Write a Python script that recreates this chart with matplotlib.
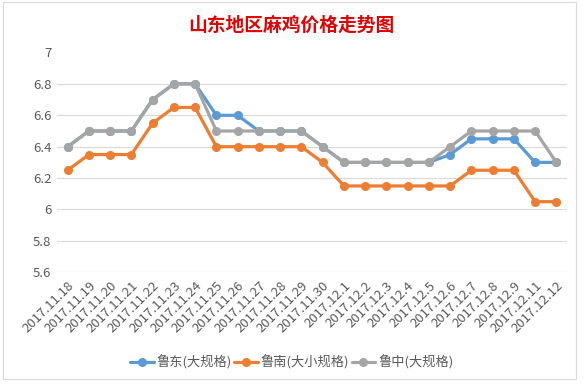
import matplotlib
matplotlib.use("Agg")
import matplotlib.pyplot as plt
from matplotlib.patches import Rectangle

plt.rcParams['font.family'] = ['Noto Sans CJK SC', 'DejaVu Sans']

dates = ["2017.11.18", "2017.11.19", "2017.11.20", "2017.11.21", "2017.11.22",
         "2017.11.23", "2017.11.24", "2017.11.25", "2017.11.26", "2017.11.27",
         "2017.11.28", "2017.11.29", "2017.11.30", "2017.12.1", "2017.12.2",
         "2017.12.3", "2017.12.4", "2017.12.5", "2017.12.6", "2017.12.7",
         "2017.12.8", "2017.12.9", "2017.12.11", "2017.12.12"]
ludong = [6.4, 6.5, 6.5, 6.5, 6.7, 6.8, 6.8, 6.6, 6.6, 6.5, 6.5, 6.5,
          6.4, 6.3, 6.3, 6.3, 6.3, 6.3, 6.35, 6.45, 6.45, 6.45, 6.3, 6.3]
lunan = [6.25, 6.35, 6.35, 6.35, 6.55, 6.65, 6.65, 6.4, 6.4, 6.4, 6.4, 6.4,
         6.3, 6.15, 6.15, 6.15, 6.15, 6.15, 6.15, 6.25, 6.25, 6.25, 6.05, 6.05]
luzhong = [6.4, 6.5, 6.5, 6.5, 6.7, 6.8, 6.8, 6.5, 6.5, 6.5, 6.5, 6.5,
           6.4, 6.3, 6.3, 6.3, 6.3, 6.3, 6.4, 6.5, 6.5, 6.5, 6.5, 6.3]
series_names = ["鲁东(大规格)", "鲁南(大小规格)", "鲁中(大规格)"]
yticks = [5.6, 5.8, 6, 6.2, 6.4, 6.6, 6.8, 7]
ytick_labels = ["5.6", "5.8", "6", "6.2", "6.4", "6.6", "6.8", "7"]
title = "山东地区麻鸡价格走势图"

fig = plt.figure(figsize=(5.83, 3.84), dpi=100)
fig.patches.append(Rectangle((3/583, 1 - 379/384), 573/583, 377/384,
                             transform=fig.transFigure, fill=False,
                             edgecolor='#D9D9D9', linewidth=0.8))
ax = fig.add_axes([57/583, 1 - 272.3/384, 510/583, (272.3 - 52.5)/384])

x = list(range(len(dates)))
colors = ['#5B9BD5', '#ED7D31', '#A5A5A5']
for vals, name, c in zip([ludong, lunan, luzhong], series_names, colors):
    ax.plot(x, vals, color=c, linewidth=2.3, marker='o', markersize=5.5,
            label=name, solid_capstyle='round')

ax.set_xlim(-0.5, len(dates) - 0.5)
ax.set_ylim(5.6, 7)
ax.set_yticks(yticks)
ax.set_yticklabels(ytick_labels, fontsize=9.5, color='#595959')
ax.set_xticks(x)
ax.set_xticklabels(dates, rotation=45, ha='right', rotation_mode='anchor',
                   fontsize=9.5, color='#595959')
ax.tick_params(axis='both', length=0, pad=4)
ax.tick_params(axis='x', pad=5)
ax.grid(axis='y', color='#D9D9D9', linewidth=0.8)
ax.set_axisbelow(True)
for s in ax.spines.values():
    s.set_visible(False)

fig.text(0.5, 1 - 25/384, title, ha='center', va='center', fontsize=13.5,
         color='#E00000', fontweight='bold')

leg = fig.legend(loc='center', bbox_to_anchor=(0.5, 1 - 362/384), ncol=3,
                 frameon=False, fontsize=9.5, handlelength=1.8, columnspacing=0.2,
                 handletextpad=0.2)
for t in leg.get_texts():
    t.set_color('#595959')

fig.savefig('out.png', dpi=100)
